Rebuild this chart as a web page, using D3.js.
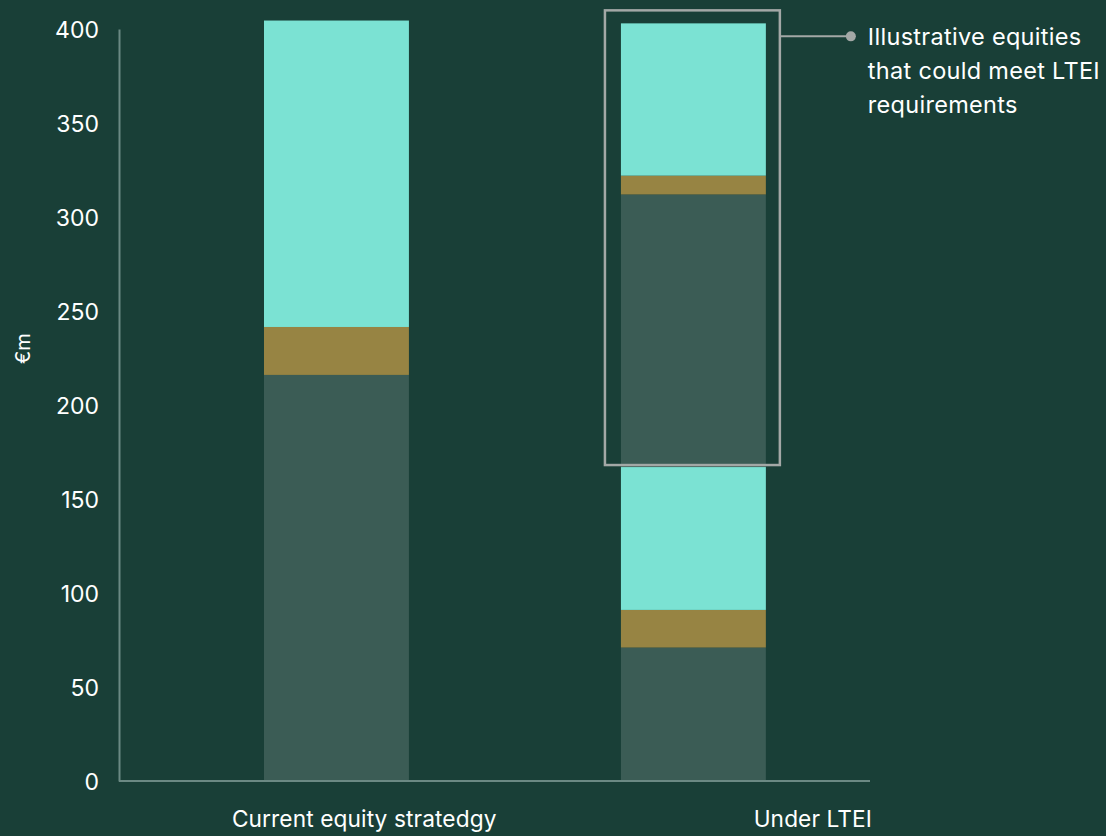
<!DOCTYPE html>
<html>
<head>
<meta charset="utf-8">
<script src="https://cdn.jsdelivr.net/npm/d3@7"></script>
<style>
  body { margin: 0; background: #193f37; }
  svg { display: block; font-family: Inter, "Noto Sans", sans-serif; }
</style>
</head>
<body>
<div id="chart"></div>
<script>
var width = 1106;
var height = 836;
var margin = {top: 29, right: 236, bottom: 55, left: 119};
var w = width - margin.left - margin.right;
var h = height - margin.top - margin.bottom;

// data
var categories = ["Current equity stratedgy", "Under LTEI"];
var currentValues = [216, 25.5, 163];
var currentKinds = ["base", "mid", "top"];
var lteiValues = [71, 20, 76, 145, 10, 81];
var lteiKinds = ["base", "mid", "top", "base", "mid", "top"];
var yTicks = [0, 50, 100, 150, 200, 250, 300, 350, 400];
var noteLines = ["Illustrative equities", "that could meet LTEI", "requirements"];
var boxFrom = 3; // first LTEI segment inside the highlight box

var colours = {base: "#3b5c55", mid: "#978443", top: "#7be2d3"};

function stack(cat, vals, kinds) {
  var sum = 0;
  return vals.map(function(v, i) {
    var s = {cat: cat, kind: kinds[i], y0: sum, y1: sum + v, i: i};
    sum += v;
    return s;
  });
}
var segs = stack(categories[0], currentValues, currentKinds)
  .concat(stack(categories[1], lteiValues, lteiKinds));

var x = d3.scaleBand()
  .domain(categories)
  .range([0, w])
  .paddingInner(0.594)
  .paddingOuter(0.349)
  .align(0.582);

var xLab = d3.scaleBand()
  .domain(categories)
  .range([0, w]);

var y = d3.scaleLinear()
  .domain([0, 400])
  .range([h, 0]);

var svg = d3.select("#chart").append("svg")
  .attr("width", width)
  .attr("height", height)
  .append("g")
  .attr("transform", "translate(" + margin.left + "," + margin.top + ")");

svg.selectAll(".bar")
  .data(segs)
  .enter()
  .append("rect")
  .attr("class", "bar")
  .attr("x", function(d) { return x(d.cat); })
  .attr("width", x.bandwidth())
  .attr("y", function(d) { return y(d.y1); })
  .attr("height", function(d) { return y(d.y0) - y(d.y1); })
  .attr("fill", function(d) { return colours[d.kind]; });

// axes
var yAxis = svg.append("g")
  .attr("class", "y axis")
  .call(d3.axisLeft(y).tickValues(yTicks).tickSize(0).tickPadding(20));
yAxis.select(".domain").attr("stroke", "#6b8983").attr("stroke-width", 2);
yAxis.selectAll("text")
  .attr("fill", "#ffffff")
  .attr("font-size", 23)
  .attr("font-family", "Inter, sans-serif")
  .attr("dy", "0.38em");

svg.append("line")
  .attr("x1", 0).attr("x2", w)
  .attr("y1", y(0)).attr("y2", y(0))
  .attr("stroke", "#6b8983")
  .attr("stroke-width", 2);

svg.selectAll(".xlabel")
  .data(categories)
  .enter()
  .append("text")
  .attr("class", "xlabel")
  .attr("x", function(d) { return xLab(d) + xLab.bandwidth() + 2; })
  .attr("y", h + 46)
  .attr("text-anchor", "end")
  .attr("fill", "#ffffff")
  .attr("font-size", 22.7)
  .attr("letter-spacing", 0.1)
  .text(function(d) { return d; });

svg.append("text")
  .attr("transform", "translate(" + (-89) + "," + y(230) + ") rotate(-90)")
  .attr("text-anchor", "middle")
  .attr("fill", "#ffffff")
  .attr("font-size", 20)
  .text("€m");

// highlight box around the LTEI-eligible part
var inBox = segs.filter(function(d) { return d.cat === categories[1] && d.i >= boxFrom; });
var bx0 = x(categories[1]) - 16;
var bx1 = x(categories[1]) + x.bandwidth() + 14;
var by0 = y(d3.max(inBox, function(d) { return d.y1; })) - 13;
var by1 = y(d3.min(inBox, function(d) { return d.y0; })) - 2;

svg.append("rect")
  .attr("x", bx0).attr("y", by0)
  .attr("width", bx1 - bx0).attr("height", by1 - by0)
  .attr("fill", "none")
  .attr("stroke", "#a3a8a6")
  .attr("stroke-width", 2.5);

var noteY = by0 + 26;
svg.append("line")
  .attr("x1", bx1).attr("x2", bx1 + 71)
  .attr("y1", noteY).attr("y2", noteY)
  .attr("stroke", "#a3a8a6")
  .attr("stroke-width", 2);
svg.append("circle")
  .attr("cx", bx1 + 71).attr("cy", noteY)
  .attr("r", 5)
  .attr("fill", "#a3a8a6");

svg.selectAll(".note")
  .data(noteLines)
  .enter()
  .append("text")
  .attr("class", "note")
  .attr("x", bx1 + 88)
  .attr("y", function(d, i) { return noteY + 9 + i * 34; })
  .attr("fill", "#ffffff")
  .attr("font-size", 23.5)
  .attr("letter-spacing", 0.3)
  .text(function(d) { return d; });
</script>
</body>
</html>
